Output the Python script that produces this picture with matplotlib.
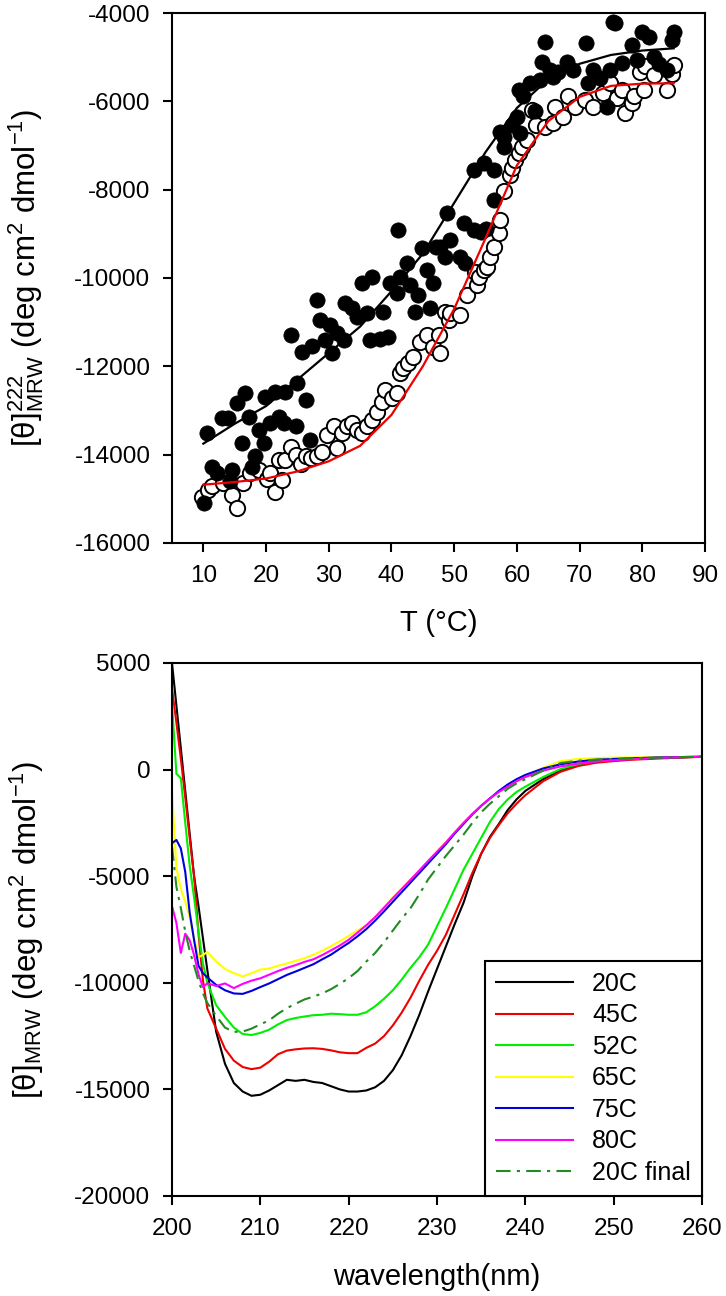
import matplotlib
matplotlib.use("Agg")
import matplotlib.pyplot as plt
import numpy as np

plt.rcParams['font.family'] = ['Liberation Sans', 'DejaVu Sans']
plt.rcParams['mathtext.fontset'] = 'custom'
plt.rcParams['mathtext.rm'] = 'Liberation Sans'
plt.rcParams['mathtext.it'] = 'Liberation Sans:italic'
plt.rcParams['mathtext.default'] = 'regular'
plt.rcParams['axes.unicode_minus'] = False

# ---------------- top panel data ----------------
filled_T = [10.05, 10.6, 11.4, 12.2, 13.0, 14.0, 14.3, 14.6, 15.4, 16.2, 16.7, 17.2, 17.8, 18.3, 18.8,
            19.6, 19.9, 20.7, 21.5, 22.0, 22.8, 23.1, 23.9, 24.7, 24.9, 25.7, 26.3, 27.0, 27.3, 28.1,
            28.6, 29.4, 30.2, 30.5, 31.3, 32.4, 32.6, 33.7, 34.5, 35.3, 36.1, 36.6, 36.9, 38.2, 38.7,
            39.5, 39.8, 40.9, 41.1, 41.4, 42.4, 43.0, 43.8, 44.3, 44.8, 45.6, 46.2, 46.7, 47.1, 47.8,
            48.6, 48.8, 49.4, 51.0, 51.5, 51.8, 53.1, 53.1, 54.2, 54.7, 55.0, 56.3, 56.3, 57.3, 57.9,
            57.9, 59.2, 60.0, 60.3, 60.5, 61.0, 62.1, 62.9, 63.7, 64.0, 64.5, 65.3, 65.8, 66.6, 68.0,
            69.0, 71.1, 71.4, 72.2, 73.3, 74.3, 74.9, 75.4, 75.7, 76.7, 78.3, 79.1, 79.9, 81.0, 81.8,
            82.6, 83.9, 84.8, 85.0]
filled_v = [-15090, -13515, -14270, -14420, -13170, -13170, -14600, -14350, -12830, -13740, -12600, -13140, -14270, -14040, -13440,
            -13740, -12690, -13290, -12570, -13140, -13290, -12570, -11290, -13360, -12380, -11670, -12760, -13670, -11550, -10500,
            -10950, -11400, -11060, -11700, -11250, -11400, -10570, -10690, -10880, -10120, -10800, -11400, -9970, -11370, -10760,
            -11330, -10120, -10350, -8910, -9970, -9670, -10160, -10760, -10380, -9330, -9820, -10690, -10120, -9290, -9290,
            -9520, -8530, -9140, -9520, -8760, -9670, -8910, -7550, -8950, -7400, -8900, -7550, -8230, -6690, -6800,
            -7030, -6540, -6350, -5740, -6720, -5890, -5590, -6230, -5520, -5100, -4650, -5300, -5440, -5330, -5100,
            -5290, -4690, -5590, -5290, -5480, -6120, -5290, -4200, -4220, -5140, -4720, -5060, -4420, -4540, -4990,
            -5150, -5290, -4600, -4420]

open_T = [9.8, 10.8, 11.4, 13.2, 14.6, 15.4, 16.4, 17.5, 18.8, 20.1, 20.7, 21.5, 22.0, 22.5, 23.1,
          23.9, 24.7, 25.5, 26.3, 27.1, 28.1, 28.9, 29.7, 30.8, 31.3, 32.1, 32.9, 33.7, 34.5, 35.3,
          36.1, 36.9, 37.7, 38.5, 39.0, 40.1, 40.9, 41.4, 41.9, 42.7, 43.5, 44.6, 45.6, 46.7, 47.5,
          47.8, 48.6, 49.1, 49.4, 51.0, 52.0, 53.3, 53.6, 54.0, 54.7, 55.2, 55.7, 56.3, 57.1, 57.3,
          57.9, 58.9, 59.2, 59.7, 60.3, 60.8, 61.6, 62.4, 63.1, 64.5, 65.8, 66.1, 67.4, 68.2, 69.3,
          70.9, 72.2, 73.8, 74.9, 75.9, 76.7, 77.3, 78.3, 78.6, 79.6, 80.2, 80.5, 81.8, 83.9, 84.8, 85.0]
open_v = [-14950, -14800, -14720, -14650, -14910, -15210, -14650, -14420, -14350, -14540, -14420, -14840, -14120, -14570, -14120,
          -13820, -14010, -14200, -14040, -14080, -14040, -13930, -13550, -13360, -13860, -13520, -13360, -13290, -13440, -13520,
          -13360, -13210, -13030, -12800, -12530, -12720, -12610, -12160, -12040, -11930, -11780, -11440, -11290, -11560, -11290,
          -11700, -10760, -10950, -10800, -10840, -10380, -9860, -10160, -9980, -9820, -9740, -9520, -9290, -8990, -8690,
          -8040, -7670, -7520, -7330, -7180, -7030, -6880, -6200, -6540, -6570, -6500, -6120, -6350, -5890, -6120,
          -5970, -6120, -5820, -5590, -5930, -5740, -6270, -6040, -5890, -5330, -5740, -5210, -5400, -5740, -5380, -5180]

fit_T = [10, 15, 20, 25, 30, 35, 40, 45, 50, 55, 60, 65, 70, 75, 80, 85]
fit_black = [-13750, -13300, -12900, -12300, -11700, -11100, -10300, -9450, -8300, -7150, -6150, -5500, -5150, -4950, -4850, -4800]
fit_red = [-14680, -14620, -14540, -14380, -14150, -13800, -13100, -12000, -10700, -9100, -7450, -6450, -5900, -5650, -5600, -5590]

# ---------------- bottom panel data ----------------
wl = [200, 200.5, 201, 201.5, 202, 202.5, 203, 203.5, 204,
      205, 206, 207, 208, 209, 210, 211, 212, 213, 214, 215, 216, 217, 218, 219, 220,
      221, 222, 223, 224, 225, 226, 227, 228, 229, 230, 231, 232, 233, 234, 235, 236,
      237, 238, 239, 240, 242, 244, 246, 248, 250, 252, 255, 258, 260]

cd_20C = [5000, 3000, 1000, -1000, -3000, -5000, -6400, -7900, -9400,
          -12300, -13800, -14700, -15100, -15300, -15250, -15050, -14800, -14550, -14600, -14550, -14650, -14700, -14850, -15000, -15100,
          -15100, -15050, -14900, -14600, -14100, -13400, -12500, -11500, -10400, -9350, -8300, -7250, -6250, -5000, -3950, -3150,
          -2550, -1900, -1400, -1000, -450, -50, 220, 370, 450, 500, 550, 580, 600]
cd_45C = [3800, 2200, 500, -1300, -3200, -5000, -7700, -9870, -11200,
          -12150, -13100, -13650, -13950, -14050, -13980, -13700, -13350, -13180, -13120, -13080, -13070, -13100, -13170, -13260, -13300,
          -13300, -13050, -12850, -12500, -12000, -11400, -10700, -9900, -9150, -8500, -7750, -6800, -5850, -4850, -3950, -3200,
          -2600, -2050, -1600, -1200, -550, -100, 170, 320, 400, 460, 520, 570, 600]
cd_52C = [3100, -200, -400, -2500, -4500, -6000, -7600, -9090, -10000,
          -11050, -11600, -12100, -12400, -12450, -12350, -12200, -11950, -11750, -11650, -11580, -11520, -11500, -11450, -11470, -11500,
          -11500, -11380, -11100, -10750, -10350, -9850, -9300, -8800, -8200, -7350, -6500, -5600, -4700, -3950, -3200, -2450,
          -1850, -1400, -1050, -800, -350, 30, 260, 400, 470, 520, 560, 590, 600]
cd_65C = [-1000, -4600, -5600, -6200, -6900, -7900, -8800, -8700, -8550,
          -9000, -9350, -9550, -9700, -9550, -9380, -9330, -9200, -9090, -8970, -8850, -8680, -8500, -8280, -8050, -7800,
          -7550, -7300, -6900, -6450, -6000, -5600, -5150, -4750, -4300, -3850, -3400, -2950, -2500, -2100, -1700, -1350,
          -1050, -750, -500, -300, 80, 400, 500, 540, 560, 570, 590, 600, 600]
cd_75C = [-3450, -3300, -3700, -4800, -6700, -8000, -9200, -9550, -9750,
          -10100, -10350, -10500, -10520, -10380, -10200, -10030, -9830, -9630, -9470, -9300, -9130, -8900, -8680, -8400, -8130,
          -7820, -7480, -7080, -6650, -6200, -5750, -5300, -4850, -4400, -3950, -3500, -3000, -2550, -2100, -1700, -1350,
          -1000, -700, -450, -250, 50, 250, 380, 460, 500, 530, 570, 590, 600]
cd_80C = [-6400, -7200, -8600, -7700, -8000, -8700, -9600, -10200, -10020,
          -10150, -10030, -10250, -10050, -9900, -9790, -9620, -9450, -9300, -9170, -9020, -8900, -8700, -8480, -8250, -7980,
          -7650, -7300, -6920, -6480, -6030, -5600, -5170, -4730, -4280, -3850, -3420, -2950, -2500, -2080, -1700, -1350,
          -1050, -800, -550, -350, -50, 150, 290, 380, 440, 490, 550, 590, 600]
cd_20C_final = [-3600, -5500, -6500, -7600, -8500, -9200, -9900, -10490, -10950,
                -11550, -12100, -12300, -12290, -12150, -11950, -11760, -11450, -11190, -10980, -10780, -10650, -10500, -10300, -10050, -9780,
                -9450, -9000, -8600, -8100, -7550, -7000, -6500, -5850, -5150, -4600, -4050, -3550, -3050, -2500, -2000, -1600,
                -1250, -900, -650, -450, -50, 310, 420, 470, 500, 530, 560, 590, 600]

series_labels = ['20C', '45C', '52C', '65C', '75C', '80C', '20C final']
series_data = [cd_20C, cd_45C, cd_52C, cd_65C, cd_75C, cd_80C, cd_20C_final]
series_colors = ['#000000', '#EE0000', '#00EE00', '#FFFF00', '#0000DD', '#FF00FF', '#228B22']
series_styles = ['-', '-', '-', '-', '-', '-', (0, (7, 3, 1.5, 3))]

# ---------------- figure ----------------
W, H = 726, 1296
fig = plt.figure(figsize=(W / 100, H / 100), dpi=100)

def px_axes(x0, y0, x1, y1):
    return fig.add_axes([x0 / W, 1 - y1 / H, (x1 - x0) / W, (y1 - y0) / H])

tick_fs = 17.5
label_fs = 21
ylabel_fs = 22.5

def style_axes(ax):
    for sp in ax.spines.values():
        sp.set_linewidth(1.5)
    ax.tick_params(direction='out', length=6.5, width=1.5, labelsize=tick_fs,
                   top=False, right=False, pad=9)

# top panel
ax1 = px_axes(172, 13, 705, 543)
ax1.scatter(open_T, open_v, s=11**2, facecolors='white', edgecolors='black', linewidths=1.4, zorder=2)
ax1.scatter(filled_T, filled_v, s=11**2, facecolors='black', edgecolors='black', linewidths=0.5, zorder=3)
ax1.plot(fit_T, fit_black, color='black', lw=1.6, zorder=4)
ax1.plot(fit_T, fit_red, color='#EE0000', lw=1.6, zorder=5)
ax1.set_xlim(5, 90)
ax1.set_ylim(-16000, -4000)
ax1.set_xticks(range(10, 91, 10))
ax1.set_yticks(range(-16000, -3999, 2000))
style_axes(ax1)
ax1.set_xlabel('T (°C)', fontsize=label_fs)
ax1.set_ylabel(r'$[\theta]^{222}_{MRW}$ (deg cm$^{2}$ dmol$^{-1}$)', fontsize=ylabel_fs)
ax1.xaxis.set_label_coords(0.5, -0.125)
ax1.yaxis.set_label_coords(-0.237, 0.5)

# bottom panel
ax2 = px_axes(172, 663, 702, 1196)
for lab, dat, col, ls in zip(series_labels, series_data, series_colors, series_styles):
    ax2.plot(wl, dat, color=col, lw=1.5, linestyle=ls, label=lab)
ax2.set_xlim(200, 260)
ax2.set_ylim(-20000, 5000)
ax2.set_xticks(range(200, 261, 10))
ax2.set_yticks(range(-20000, 5001, 5000))
style_axes(ax2)
ax2.set_xlabel('wavelength(nm)', fontsize=label_fs)
ax2.set_ylabel(r'$[\theta]_{MRW}$ (deg cm$^{2}$ dmol$^{-1}$)', fontsize=ylabel_fs)
ax2.xaxis.set_label_coords(0.5, -0.125)
ax2.yaxis.set_label_coords(-0.237, 0.5)
leg = ax2.legend(loc='lower right', borderaxespad=0, fontsize=18, handlelength=3.1,
                 handletextpad=0.75, labelspacing=0.3, borderpad=0.45, fancybox=False,
                 framealpha=1, edgecolor='black')
leg.get_frame().set_linewidth(1.5)

fig.savefig('out.png', dpi=100)
